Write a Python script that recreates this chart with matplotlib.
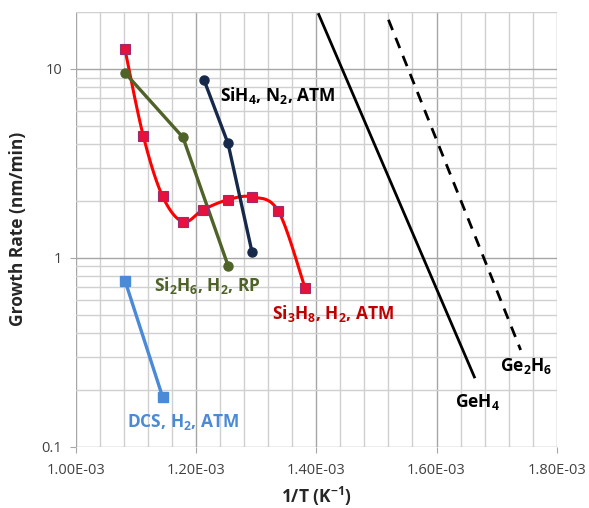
import numpy as np
import matplotlib
matplotlib.use("Agg")
import matplotlib.pyplot as plt
from matplotlib.ticker import FixedLocator, NullFormatter

plt.rcParams['font.family'] = ['Open Sans', 'DejaVu Sans']
plt.rcParams['mathtext.fontset'] = 'custom'
plt.rcParams['mathtext.rm'] = 'Open Sans:bold'
plt.rcParams['mathtext.bf'] = 'Open Sans:bold'
plt.rcParams['mathtext.default'] = 'rm'

# --- data ---
si3h8_x = [1.0815e-3, 1.112e-3, 1.144e-3, 1.178e-3, 1.212e-3, 1.253e-3, 1.293e-3, 1.337e-3, 1.381e-3]
si3h8_y = [12.7, 4.41, 2.12, 1.55, 1.80, 2.03, 2.10, 1.76, 0.693]
si2h6_x = [1.082e-3, 1.178e-3, 1.253e-3]
si2h6_y = [9.49, 4.34, 0.91]
sih4_x = [1.213e-3, 1.253e-3, 1.293e-3]
sih4_y = [8.74, 4.03, 1.07]
dcs_x = [1.0815e-3, 1.144e-3]
dcs_y = [0.758, 0.184]
geh4_x = [1.404e-3, 1.663e-3]
geh4_y = [19.4, 0.234]
ge2h6_x = [1.520e-3, 1.740e-3]
ge2h6_y = [18.2, 0.325]
xticks = [1.0e-3, 1.2e-3, 1.4e-3, 1.6e-3, 1.8e-3]
xtick_labels = ["1.00E-03", "1.20E-03", "1.40E-03", "1.60E-03", "1.80E-03"]


def smooth(xs, ys, xr, n=30):
    # Excel-like smoothed line (Catmull-Rom) in normalised x / log-y space
    px = (np.asarray(xs) - xr[0]) / (xr[1] - xr[0])
    py = np.log10(np.asarray(ys)) / 2.0
    P = np.column_stack([px, py])
    P = np.vstack([P[0], P, P[-1]])
    out = []
    for i in range(1, len(P) - 2):
        p0, p1, p2, p3 = P[i - 1], P[i], P[i + 1], P[i + 2]
        c1 = p1 + (p2 - p0) / 6
        c2 = p2 - (p3 - p1) / 6
        t = np.linspace(0, 1, n)[:, None]
        seg = ((1 - t) ** 3) * p1 + 3 * ((1 - t) ** 2) * t * c1 + 3 * (1 - t) * t ** 2 * c2 + t ** 3 * p2
        out.append(seg if i == 1 else seg[1:])
    S = np.vstack(out)
    return S[:, 0] * (xr[1] - xr[0]) + xr[0], 10 ** (S[:, 1] * 2.0)


fig = plt.figure(figsize=(5.89, 5.08), dpi=100)
ax = fig.add_axes([76 / 589, 1 - 446.7 / 508, (556.7 - 76) / 589, (446.7 - 12) / 508])
xr = (1.0e-3, 1.8e-3)
ax.set_xlim(*xr)
ax.set_yscale('log')
ax.set_ylim(0.1, 20)

# grid
ax.xaxis.set_major_locator(FixedLocator(xticks))
ax.xaxis.set_minor_locator(FixedLocator(np.arange(1.0e-3, 1.8001e-3, 0.04e-3)))
ax.set_xticklabels(xtick_labels)
ax.yaxis.set_major_locator(FixedLocator([0.1, 1, 10]))
ax.set_yticklabels(["0.1", "1", "10"])
ax.yaxis.set_minor_formatter(NullFormatter())
ax.grid(True, which='major', color='#a6a6a6', lw=1.0)
ax.grid(True, which='minor', color='#d0d0d0', lw=1.0)
ax.set_axisbelow(True)
for s in ax.spines.values():
    s.set_visible(False)
ax.tick_params(which='minor', length=0)
ax.tick_params(which='major', length=4, color='#a6a6a6', labelsize=10.5, labelcolor='#404040', pad=6)
ax.tick_params(axis='x', pad=8)

# series
sx, sy = smooth(si3h8_x, si3h8_y, xr)
ax.plot(sx, sy, color='#ff0000', lw=2.2, zorder=3)
ax.plot(si3h8_x, si3h8_y, ls='none', marker='s', ms=6.5, mfc='#e8103c', mec='#9b2d6e', mew=0.8, zorder=4)
ax.plot(si2h6_x, si2h6_y, color='#4f6228', lw=2.4, marker='o', ms=6.5, mfc='#4f6228', mec='#4f6228', zorder=3)
ax.plot(sih4_x, sih4_y, color='#17294a', lw=2.4, marker='o', ms=6.5, mfc='#17294a', mec='#17294a', zorder=3)
ax.plot(dcs_x, dcs_y, color='#4a8ad6', lw=2.4, marker='s', ms=6.5, mfc='#4a8ad6', mec='#4a8ad6', zorder=3)
ax.plot(geh4_x, geh4_y, color='black', lw=2.0, zorder=3)
ax.plot(ge2h6_x, ge2h6_y, color='black', lw=2.0, ls=(0, (4, 3)), zorder=3)

# labels
tk = dict(fontsize=12.5, fontweight='bold', transform=ax.transAxes, va='center', ha='left')
W = 556.7 - 76
H = 446.7 - 12
def axc(px, py):
    return (px - 76) / W, (446.7 - py) / H

ax.text(*axc(220, 95), "SiH$_4$, N$_2$, ATM", color='black', **tk)
ax.text(*axc(154, 285), "Si$_2$H$_6$, H$_2$, RP", color='#4f6228', **tk)
ax.text(*axc(272, 313), "Si$_3$H$_8$, H$_2$, ATM", color='#c00000', **tk)
ax.text(*axc(127, 422), "DCS, H$_2$, ATM", color='#4a8ad6', **tk)
ax.text(*axc(455, 402), "GeH$_4$", color='black', **tk)
ax.text(*axc(500, 366), "Ge$_2$H$_6$", color='black', **tk)

ax.set_ylabel("Growth Rate (nm/min)", fontsize=12.5, fontweight='bold', color='#262626', labelpad=10)
ax.set_xlabel("1/T (K$^{-1}$)", fontsize=12.5, fontweight='bold', color='#262626', labelpad=5)

fig.savefig("out.png", dpi=100)
